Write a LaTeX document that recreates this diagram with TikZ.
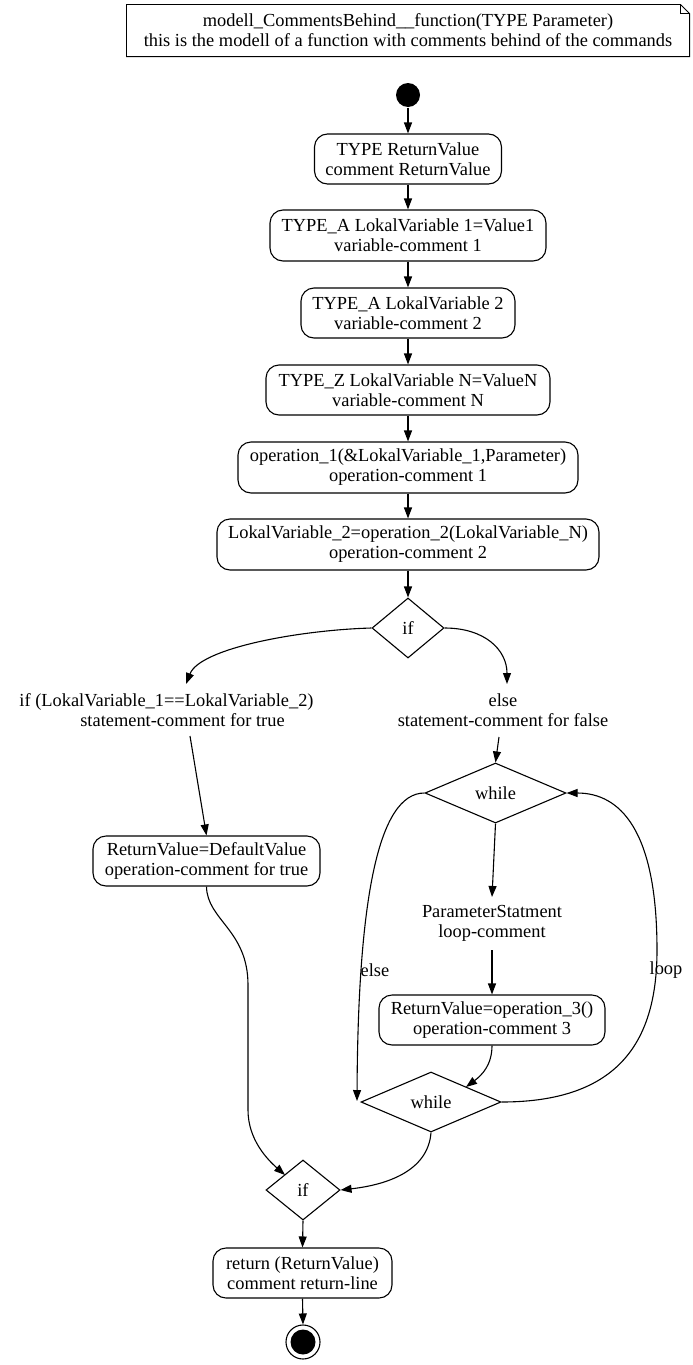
\documentclass[tikz,border=0pt]{standalone}
\usepackage{fontspec}
\setmainfont{Liberation Serif}
\usetikzlibrary{arrows.meta,shapes.geometric}
\begin{document}
\begin{tikzpicture}[x=1pt,y=-1pt,
  line width=1.1pt,
  font=\fontsize{18.4}{20}\selectfont,
  arr/.style={-{Triangle[length=11pt,width=8pt]}},
  act/.style={draw,rounded corners=13pt,align=center,inner sep=0pt},
  txt/.style={align=center,inner sep=0pt},
  dec/.style={draw,diamond,inner sep=0pt,aspect=1},
  lbl/.style={inner sep=0pt}]
\useasboundingbox (0,0) rectangle (693,1365);
% note
\node[txt,minimum width=562pt,minimum height=51pt] (note) at (408,30.5)
  {modell\_CommentsBehind\_\_function(TYPE Parameter)\\this is the modell of a function with comments behind of the commands};
\draw[line width=0.9pt] (note.south west) -- (note.north west) -- ([xshift=-9pt]note.north east)
  -- ([yshift=-9pt]note.north east) -- (note.south east) -- cycle;
\draw[line width=0.9pt] ([xshift=-9pt]note.north east) -- ([xshift=-9pt,yshift=-9pt]note.north east) -- ([yshift=-9pt]note.north east);
% start
\node[circle,fill=black,minimum size=24pt,inner sep=0pt] (start) at (408,95) {};
% actions
\node[act,minimum width=187pt,minimum height=50pt] (n1) at (408,159) {TYPE ReturnValue\\comment ReturnValue};
\node[act,minimum width=276pt,minimum height=51pt] (n2) at (408,235.5) {TYPE\_A LokalVariable 1=Value1\\variable-comment 1};
\node[act,minimum width=214pt,minimum height=50pt] (n3) at (408,313) {TYPE\_A LokalVariable 2\\variable-comment 2};
\node[act,minimum width=284pt,minimum height=50pt] (n4) at (408,390) {TYPE\_Z LokalVariable N=ValueN\\variable-comment N};
\node[act,minimum width=340pt,minimum height=51pt] (n5) at (408,467.5) {operation\_1(\&LokalVariable\_1,Parameter)\\operation-comment 1};
\node[act,minimum width=382pt,minimum height=51pt] (n6) at (408,544.5) {LokalVariable\_2=operation\_2(LokalVariable\_N)\\operation-comment 2};
\node[dec,minimum width=72pt,minimum height=60pt] (if1) at (408,628) {if};
\node[txt] (lt) at (166.5,710) {if (LokalVariable\_1==LokalVariable\_2)\\\hspace*{32pt}statement-comment for true};
\node[txt] (rt) at (503,710) {else\\statement-comment for false};
\node[act,minimum width=227pt,minimum height=50pt] (dv) at (206.5,861) {ReturnValue=DefaultValue\\operation-comment for true};
\node[dec,minimum width=141pt,minimum height=60pt] (w1) at (495.5,793) {while};
\node[txt] (ps) at (492,923) {ParameterStatment\\loop-comment};
\node[act,minimum width=226pt,minimum height=50pt] (op3) at (492,1020) {ReturnValue=operation\_3()\\operation-comment 3};
\node[dec,minimum width=140pt,minimum height=60pt] (w2) at (431,1102) {while};
\node[dec,minimum width=74pt,minimum height=60pt] (if2) at (303,1190) {if};
\node[act,minimum width=179pt,minimum height=50pt] (ret) at (302.5,1273) {return (ReturnValue)\\comment return-line};
\node[circle,draw,minimum size=34pt,inner sep=0pt] (end) at (303,1342) {};
\node[circle,fill=black,minimum size=25pt,inner sep=0pt] at (end) {};
% edges
\draw[arr] (start) -- (n1);
\draw[arr] (n1) -- (n2);
\draw[arr] (n2) -- (n3);
\draw[arr] (n3) -- (n4);
\draw[arr] (n4) -- (n5);
\draw[arr] (n5) -- (n6);
\draw[arr] (n6) -- (if1);
\draw[arr] (if1.west) .. controls (300,630) and (200,648) .. (186,684);
\draw[arr] (if1.east) .. controls (485,628) and (507,650) .. (507,684);
\draw[arr] (190,736) -- (dv.north);
\draw[arr] (499,737) -- (w1.north);
\draw[arr] (w1.south) -- (492,897);
\draw[arr] (492,950) -- (op3.north);
\draw[arr] (op3.south) .. controls (492,1065) and (482,1075) .. (466,1087);
\draw[arr] (w1.west) .. controls (378,793) and (358,900) .. (357,1101);
\node[lbl] (elsel) at (375,970) {else};
\draw[arr] (w2.east) .. controls (620,1102) and (657,1040) .. (657,950)
  .. controls (657,830) and (620,793) .. (w1.east);
\node[lbl] (loop) at (666,970) {loop};
\draw[arr] (dv.south) .. controls (207,920) and (248,930) .. (248,985)
  -- (248,1110) .. controls (248,1140) and (268,1160) .. (285,1175);
\draw[arr] (w2.south) .. controls (428,1172) and (385,1185) .. (if2.east);
\draw[arr] (if2.south) -- (ret.north);
\draw[arr] (ret.south) -- (end.north);
\end{tikzpicture}
\end{document}
